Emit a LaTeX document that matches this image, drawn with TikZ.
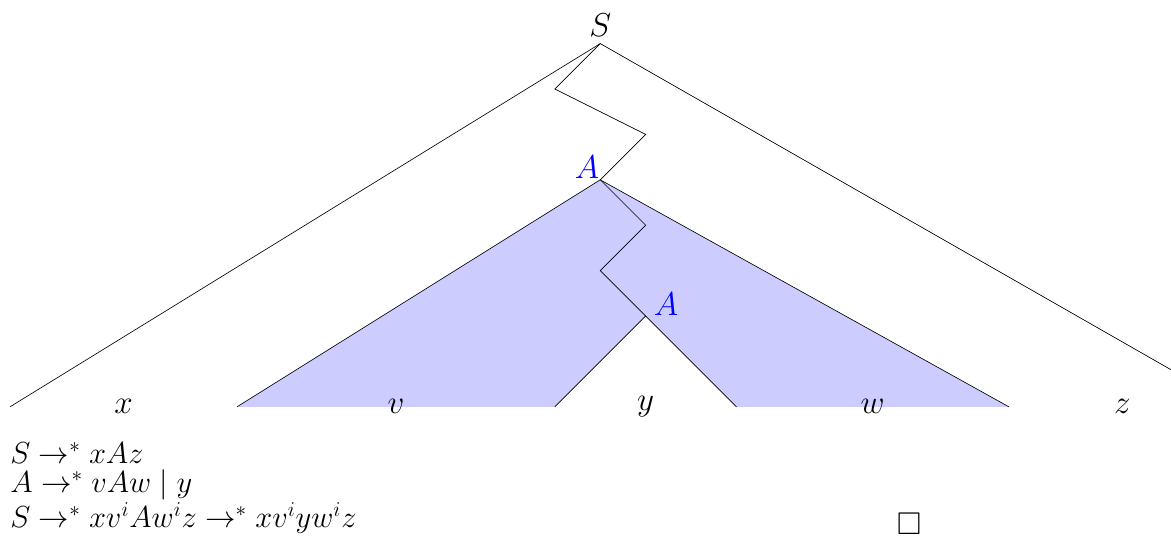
\documentclass[tikz,border=0pt]{standalone}
\usepackage{amssymb}
\usepackage{tikz}

\tikzset{
  leaf/.style={font=\fontsize{19.7}{23}\selectfont},
  nt/.style={font=\fontsize{19.7}{23}\selectfont,blue},
  rule/.style={anchor=west,font=\fontsize{19.7}{23}\selectfont,inner sep=0pt,scale=0.92,transform shape}
}

\begin{document}
\begin{tikzpicture}[scale=1.0]
  % Page frame (the right edge cuts the outer tree)
  \clip (-0.22,-2.84) rectangle (25.57,8.96);

  % Inner subtree shading (from upper A down to the leaves v and w)
  \fill[blue!20] (13,5) -- (5,0) -- (12,0) -- (14,2) -- (16,0) -- (22,0) -- cycle;

  % Outer tree from S
  \coordinate (root) at (13,8);
  \draw (0,0) -- (root) -- (27,0);
  \node[leaf,above,inner sep=4pt] (s) at (root) {$S$};

  % Path from S to the upper A
  \coordinate (a1) at (13,5);
  \draw (root) -- (12,7) -- (14,6) -- (a1);
  \node[nt,anchor=south east,inner sep=0.5pt] (a1lab) at (a1) {$A$};

  % Subtree of the upper A
  \draw (5,0) -- (a1) -- (22,0);

  % Path from the upper A to the lower A
  \coordinate (a2) at (14,2);
  \draw (a1) -- (14,4) -- (13,3) -- (a2);
  \node[nt,anchor=south west,inner sep=0pt,xshift=5pt] (a2lab) at (a2) {$A$};

  % Subtree of the lower A
  \draw (12,0) -- (a2) -- (16,0);

  % Yield labels
  \node[leaf] (x) at (2.5,0) {$x$};
  \node[leaf] (v) at (8.5,0) {$v$};
  \node[leaf] (y) at (14,0) {$y$};
  \node[leaf] (w) at (19,0) {$w$};
  \node[leaf] (z) at (24.5,0) {$z$};

  % Derivations
  \node[rule] (r1) at (0,-1.01) {$S \rightarrow^* xAz$};
  \node[rule] (r2) at (0,-1.72) {$A \rightarrow^* vAw \mid y$};
  \node[rule] (r3) at (0,-2.44) {$S \rightarrow^* xv^iAw^iz \rightarrow^* xv^iyw^iz$};
  \node[leaf] (qed) at (19.8,-2.58) {$\square$};
\end{tikzpicture}
\end{document}
